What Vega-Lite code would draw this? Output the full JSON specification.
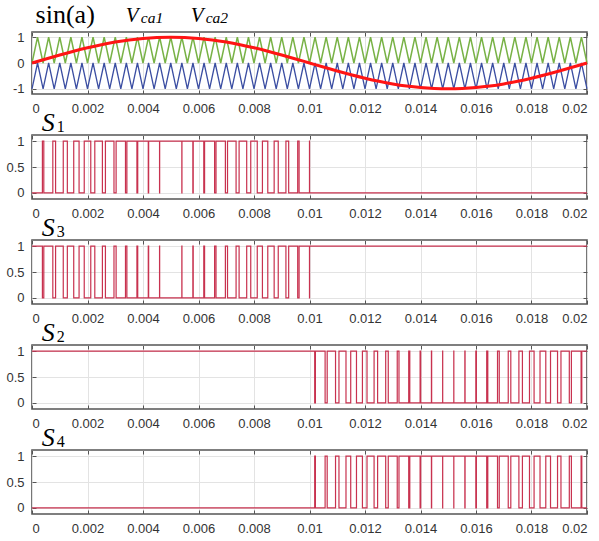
{
"$schema": "https://vega.github.io/schema/vega-lite/v6.json",
"padding": {"left": 5, "top": 1, "right": 1, "bottom": 2},
"bounds": "flush",
"spacing": 41,
"config": {
 "view": {"stroke": "#555555", "strokeWidth": 1.6},
 "axis": {"labelFont": "Liberation Sans", "labelFontSize": 13, "labelColor": "#333333", "tickColor": "#555555", "domain": false, "gridColor": "#e3e3e3", "tickSize": -4, "labelPadding": 12}
},
"datasets": {
 "car": [
  {"t":0,"g":0,"b":-1},{"t":0.0002,"g":1,"b":0},{"t":0.0004,"g":0,"b":-1},{"t":0.0006,"g":1,"b":0},{"t":0.0008,"g":0,"b":-1},
  {"t":0.001,"g":1,"b":0},{"t":0.0012,"g":0,"b":-1},{"t":0.0014,"g":1,"b":0},{"t":0.0016,"g":0,"b":-1},{"t":0.0018,"g":1,"b":0},
  {"t":0.002,"g":0,"b":-1},{"t":0.0022,"g":1,"b":0},{"t":0.0024,"g":0,"b":-1},{"t":0.0026,"g":1,"b":0},{"t":0.0028,"g":0,"b":-1},
  {"t":0.003,"g":1,"b":0},{"t":0.0032,"g":0,"b":-1},{"t":0.0034,"g":1,"b":0},{"t":0.0036,"g":0,"b":-1},{"t":0.0038,"g":1,"b":0},
  {"t":0.004,"g":0,"b":-1},{"t":0.0042,"g":1,"b":0},{"t":0.0044,"g":0,"b":-1},{"t":0.0046,"g":1,"b":0},{"t":0.0048,"g":0,"b":-1},
  {"t":0.005,"g":1,"b":0},{"t":0.0052,"g":0,"b":-1},{"t":0.0054,"g":1,"b":0},{"t":0.0056,"g":0,"b":-1},{"t":0.0058,"g":1,"b":0},
  {"t":0.006,"g":0,"b":-1},{"t":0.0062,"g":1,"b":0},{"t":0.0064,"g":0,"b":-1},{"t":0.0066,"g":1,"b":0},{"t":0.0068,"g":0,"b":-1},
  {"t":0.007,"g":1,"b":0},{"t":0.0072,"g":0,"b":-1},{"t":0.0074,"g":1,"b":0},{"t":0.0076,"g":0,"b":-1},{"t":0.0078,"g":1,"b":0},
  {"t":0.008,"g":0,"b":-1},{"t":0.0082,"g":1,"b":0},{"t":0.0084,"g":0,"b":-1},{"t":0.0086,"g":1,"b":0},{"t":0.0088,"g":0,"b":-1},
  {"t":0.009,"g":1,"b":0},{"t":0.0092,"g":0,"b":-1},{"t":0.0094,"g":1,"b":0},{"t":0.0096,"g":0,"b":-1},{"t":0.0098,"g":1,"b":0},
  {"t":0.01,"g":0,"b":-1},{"t":0.0102,"g":1,"b":0},{"t":0.0104,"g":0,"b":-1},{"t":0.0106,"g":1,"b":0},{"t":0.0108,"g":0,"b":-1},
  {"t":0.011,"g":1,"b":0},{"t":0.0112,"g":0,"b":-1},{"t":0.0114,"g":1,"b":0},{"t":0.0116,"g":0,"b":-1},{"t":0.0118,"g":1,"b":0},
  {"t":0.012,"g":0,"b":-1},{"t":0.0122,"g":1,"b":0},{"t":0.0124,"g":0,"b":-1},{"t":0.0126,"g":1,"b":0},{"t":0.0128,"g":0,"b":-1},
  {"t":0.013,"g":1,"b":0},{"t":0.0132,"g":0,"b":-1},{"t":0.0134,"g":1,"b":0},{"t":0.0136,"g":0,"b":-1},{"t":0.0138,"g":1,"b":0},
  {"t":0.014,"g":0,"b":-1},{"t":0.0142,"g":1,"b":0},{"t":0.0144,"g":0,"b":-1},{"t":0.0146,"g":1,"b":0},{"t":0.0148,"g":0,"b":-1},
  {"t":0.015,"g":1,"b":0},{"t":0.0152,"g":0,"b":-1},{"t":0.0154,"g":1,"b":0},{"t":0.0156,"g":0,"b":-1},{"t":0.0158,"g":1,"b":0},
  {"t":0.016,"g":0,"b":-1},{"t":0.0162,"g":1,"b":0},{"t":0.0164,"g":0,"b":-1},{"t":0.0166,"g":1,"b":0},{"t":0.0168,"g":0,"b":-1},
  {"t":0.017,"g":1,"b":0},{"t":0.0172,"g":0,"b":-1},{"t":0.0174,"g":1,"b":0},{"t":0.0176,"g":0,"b":-1},{"t":0.0178,"g":1,"b":0},
  {"t":0.018,"g":0,"b":-1},{"t":0.0182,"g":1,"b":0},{"t":0.0184,"g":0,"b":-1},{"t":0.0186,"g":1,"b":0},{"t":0.0188,"g":0,"b":-1},
  {"t":0.019,"g":1,"b":0},{"t":0.0192,"g":0,"b":-1},{"t":0.0194,"g":1,"b":0},{"t":0.0196,"g":0,"b":-1},{"t":0.0198,"g":1,"b":0},
  {"t":0.02,"g":0,"b":-1}
 ],
 "sine": [
  {"t":0,"v":0},{"t":0.0005,"v":0.1564},{"t":0.001,"v":0.309},{"t":0.0015,"v":0.454},{"t":0.002,"v":0.5878},
  {"t":0.0025,"v":0.7071},{"t":0.003,"v":0.809},{"t":0.0035,"v":0.891},{"t":0.004,"v":0.9511},{"t":0.0045,"v":0.9877},
  {"t":0.005,"v":1},{"t":0.0055,"v":0.9877},{"t":0.006,"v":0.9511},{"t":0.0065,"v":0.891},{"t":0.007,"v":0.809},
  {"t":0.0075,"v":0.7071},{"t":0.008,"v":0.5878},{"t":0.0085,"v":0.454},{"t":0.009,"v":0.309},{"t":0.0095,"v":0.1564},
  {"t":0.01,"v":0},{"t":0.0105,"v":-0.1564},{"t":0.011,"v":-0.309},{"t":0.0115,"v":-0.454},{"t":0.012,"v":-0.5878},
  {"t":0.0125,"v":-0.7071},{"t":0.013,"v":-0.809},{"t":0.0135,"v":-0.891},{"t":0.014,"v":-0.9511},{"t":0.0145,"v":-0.9877},
  {"t":0.015,"v":-1},{"t":0.0155,"v":-0.9877},{"t":0.016,"v":-0.9511},{"t":0.0165,"v":-0.891},{"t":0.017,"v":-0.809},
  {"t":0.0175,"v":-0.7071},{"t":0.018,"v":-0.5878},{"t":0.0185,"v":-0.454},{"t":0.019,"v":-0.309},{"t":0.0195,"v":-0.1564},
  {"t":0.02,"v":0}
 ],
 "s1": [
  {"t":0,"v":0},
  {"t":0.0003749,"v":1},{"t":0.0004251,"v":0},{"t":0.0007503,"v":1},{"t":0.0008497,"v":0},
  {"t":0.0011264,"v":1},{"t":0.0012736,"v":0},{"t":0.0015036,"v":1},{"t":0.0016964,"v":0},
  {"t":0.0018824,"v":1},{"t":0.0021176,"v":0},{"t":0.0022631,"v":1},{"t":0.0025369,"v":0},
  {"t":0.0026459,"v":1},{"t":0.0029541,"v":0},{"t":0.0030311,"v":1},{"t":0.0033689,"v":0},
  {"t":0.003419,"v":1},{"t":0.003781,"v":0},{"t":0.0038098,"v":1},{"t":0.0041902,"v":0},
  {"t":0.0042035,"v":1},{"t":0.0045965,"v":0},{"t":0.0046004,"v":1},{"t":0.0053996,"v":0},
  {"t":0.0054035,"v":1},{"t":0.0057965,"v":0},{"t":0.0058098,"v":1},{"t":0.0061902,"v":0},
  {"t":0.006219,"v":1},{"t":0.006581,"v":0},{"t":0.0066311,"v":1},{"t":0.0069689,"v":0},
  {"t":0.0070459,"v":1},{"t":0.0073541,"v":0},{"t":0.0074631,"v":1},{"t":0.0077369,"v":0},
  {"t":0.0078824,"v":1},{"t":0.0081176,"v":0},{"t":0.0083036,"v":1},{"t":0.0084964,"v":0},
  {"t":0.0087264,"v":1},{"t":0.0088736,"v":0},{"t":0.0091503,"v":1},{"t":0.0092497,"v":0},
  {"t":0.0095749,"v":1},{"t":0.0096251,"v":0},{"t":0.0099995,"v":1},{"t":0.0100005,"v":0},
  {"t":0.02,"v":0}
 ],
 "s3": [
  {"t":0,"v":1},
  {"t":0.0003749,"v":0},{"t":0.0004251,"v":1},{"t":0.0007503,"v":0},{"t":0.0008497,"v":1},
  {"t":0.0011264,"v":0},{"t":0.0012736,"v":1},{"t":0.0015036,"v":0},{"t":0.0016964,"v":1},
  {"t":0.0018824,"v":0},{"t":0.0021176,"v":1},{"t":0.0022631,"v":0},{"t":0.0025369,"v":1},
  {"t":0.0026459,"v":0},{"t":0.0029541,"v":1},{"t":0.0030311,"v":0},{"t":0.0033689,"v":1},
  {"t":0.003419,"v":0},{"t":0.003781,"v":1},{"t":0.0038098,"v":0},{"t":0.0041902,"v":1},
  {"t":0.0042035,"v":0},{"t":0.0045965,"v":1},{"t":0.0046004,"v":0},{"t":0.0053996,"v":1},
  {"t":0.0054035,"v":0},{"t":0.0057965,"v":1},{"t":0.0058098,"v":0},{"t":0.0061902,"v":1},
  {"t":0.006219,"v":0},{"t":0.006581,"v":1},{"t":0.0066311,"v":0},{"t":0.0069689,"v":1},
  {"t":0.0070459,"v":0},{"t":0.0073541,"v":1},{"t":0.0074631,"v":0},{"t":0.0077369,"v":1},
  {"t":0.0078824,"v":0},{"t":0.0081176,"v":1},{"t":0.0083036,"v":0},{"t":0.0084964,"v":1},
  {"t":0.0087264,"v":0},{"t":0.0088736,"v":1},{"t":0.0091503,"v":0},{"t":0.0092497,"v":1},
  {"t":0.0095749,"v":0},{"t":0.0096251,"v":1},{"t":0.0099995,"v":0},{"t":0.0100005,"v":1},
  {"t":0.02,"v":1}
 ],
 "s4": [
  {"t":0,"v":0},
  {"t":0.0101874,"v":1},{"t":0.0102126,"v":0},{"t":0.0105625,"v":1},{"t":0.0106375,"v":0},
  {"t":0.0109382,"v":1},{"t":0.0110618,"v":0},{"t":0.0113148,"v":1},{"t":0.0114852,"v":0},
  {"t":0.0116928,"v":1},{"t":0.0119072,"v":0},{"t":0.0120725,"v":1},{"t":0.0123275,"v":0},
  {"t":0.0124542,"v":1},{"t":0.0127458,"v":0},{"t":0.0128382,"v":1},{"t":0.0131618,"v":0},
  {"t":0.0132247,"v":1},{"t":0.0135753,"v":0},{"t":0.013614,"v":1},{"t":0.013986,"v":0},
  {"t":0.0140063,"v":1},{"t":0.0143937,"v":0},{"t":0.0144016,"v":1},{"t":0.0147984,"v":0},
  {"t":0.0148001,"v":1},{"t":0.0151999,"v":0},{"t":0.0152016,"v":1},{"t":0.0155984,"v":0},
  {"t":0.0156063,"v":1},{"t":0.0159937,"v":0},{"t":0.016014,"v":1},{"t":0.016386,"v":0},
  {"t":0.0164247,"v":1},{"t":0.0167753,"v":0},{"t":0.0168382,"v":1},{"t":0.0171618,"v":0},
  {"t":0.0172542,"v":1},{"t":0.0175458,"v":0},{"t":0.0176725,"v":1},{"t":0.0179275,"v":0},
  {"t":0.0180928,"v":1},{"t":0.0183072,"v":0},{"t":0.0185148,"v":1},{"t":0.0186852,"v":0},
  {"t":0.0189382,"v":1},{"t":0.0190618,"v":0},{"t":0.0193625,"v":1},{"t":0.0194375,"v":0},
  {"t":0.0197874,"v":1},{"t":0.0198126,"v":0},
  {"t":0.02,"v":0}
 ],
 "s2": [
  {"t":0,"v":1},
  {"t":0.0101874,"v":0},{"t":0.0102126,"v":1},{"t":0.0105625,"v":0},{"t":0.0106375,"v":1},
  {"t":0.0109382,"v":0},{"t":0.0110618,"v":1},{"t":0.0113148,"v":0},{"t":0.0114852,"v":1},
  {"t":0.0116928,"v":0},{"t":0.0119072,"v":1},{"t":0.0120725,"v":0},{"t":0.0123275,"v":1},
  {"t":0.0124542,"v":0},{"t":0.0127458,"v":1},{"t":0.0128382,"v":0},{"t":0.0131618,"v":1},
  {"t":0.0132247,"v":0},{"t":0.0135753,"v":1},{"t":0.013614,"v":0},{"t":0.013986,"v":1},
  {"t":0.0140063,"v":0},{"t":0.0143937,"v":1},{"t":0.0144016,"v":0},{"t":0.0147984,"v":1},
  {"t":0.0148001,"v":0},{"t":0.0151999,"v":1},{"t":0.0152016,"v":0},{"t":0.0155984,"v":1},
  {"t":0.0156063,"v":0},{"t":0.0159937,"v":1},{"t":0.016014,"v":0},{"t":0.016386,"v":1},
  {"t":0.0164247,"v":0},{"t":0.0167753,"v":1},{"t":0.0168382,"v":0},{"t":0.0171618,"v":1},
  {"t":0.0172542,"v":0},{"t":0.0175458,"v":1},{"t":0.0176725,"v":0},{"t":0.0179275,"v":1},
  {"t":0.0180928,"v":0},{"t":0.0183072,"v":1},{"t":0.0185148,"v":0},{"t":0.0186852,"v":1},
  {"t":0.0189382,"v":0},{"t":0.0190618,"v":1},{"t":0.0193625,"v":0},{"t":0.0194375,"v":1},
  {"t":0.0197874,"v":0},{"t":0.0198126,"v":1},
  {"t":0.02,"v":1}
 ]
},
"vconcat": [
 {
  "width": 555, "height": 62,
  "layer": [
   {"data": {"name": "car"}, "mark": {"type": "line", "color": "#78b246", "strokeWidth": 1.5},
    "encoding": {
     "x": {"field": "t", "type": "quantitative", "title": null, "scale": {"domain": [0, 0.02], "nice": false}, "axis": {"orient": "bottom", "values": [0,0.002,0.004,0.006,0.008,0.01,0.012,0.014,0.016,0.018,0.02], "format": ".3~f", "grid": true}},
     "y": {"field": "g", "type": "quantitative", "title": null, "scale": {"domain": [-1.2, 1.2], "nice": false}, "axis": {"orient": "left", "values": [-1,0,1], "labelExpr": "datum.value + ''", "grid": true}}}},
   {"data": {"name": "car"}, "mark": {"type": "line", "color": "#3b4ea2", "strokeWidth": 1.3},
    "encoding": {
     "x": {"field": "t", "type": "quantitative", "title": null, "scale": {"domain": [0, 0.02], "nice": false}, "axis": {"orient": "top", "values": [0,0.002,0.004,0.006,0.008,0.01,0.012,0.014,0.016,0.018,0.02], "labels": false, "grid": false}},
     "y": {"field": "b", "type": "quantitative", "title": null, "scale": {"domain": [-1.2, 1.2], "nice": false}, "axis": {"orient": "right", "values": [-1,0,1], "labels": false, "grid": false}}}},
   {"data": {"name": "sine"}, "mark": {"type": "line", "color": "#ff1414", "strokeWidth": 3, "interpolate": "monotone"},
    "encoding": {
     "x": {"field": "t", "type": "quantitative", "title": null, "scale": {"domain": [0, 0.02], "nice": false}, "axis": null},
     "y": {"field": "v", "type": "quantitative", "title": null, "scale": {"domain": [-1.2, 1.2], "nice": false}, "axis": null}}},
   {"data": {"values": [{}]}, "mark": {"type": "text", "text": "sin(a)", "font": "Liberation Serif", "fontSize": 26, "align": "left", "baseline": "alphabetic", "color": "#000000"},
    "encoding": {"x": {"datum": 0.00013, "axis": null}, "y": {"datum": 1.55, "axis": null}}},
   {"data": {"values": [{}]}, "mark": {"type": "text", "text": "V", "font": "Liberation Serif", "fontStyle": "italic", "fontSize": 21, "align": "left", "baseline": "alphabetic", "color": "#000000"},
    "encoding": {"x": {"datum": 0.00338, "axis": null}, "y": {"datum": 1.59, "axis": null}}},
   {"data": {"values": [{}]}, "mark": {"type": "text", "text": "ca1", "font": "Liberation Serif", "fontStyle": "italic", "fontSize": 15.5, "align": "left", "baseline": "alphabetic", "dx": 15, "dy": 1, "color": "#000000"},
    "encoding": {"x": {"datum": 0.00338, "axis": null}, "y": {"datum": 1.59, "axis": null}}},
   {"data": {"values": [{}]}, "mark": {"type": "text", "text": "V", "font": "Liberation Serif", "fontStyle": "italic", "fontSize": 21, "align": "left", "baseline": "alphabetic", "color": "#000000"},
    "encoding": {"x": {"datum": 0.00572, "axis": null}, "y": {"datum": 1.59, "axis": null}}},
   {"data": {"values": [{}]}, "mark": {"type": "text", "text": "ca2", "font": "Liberation Serif", "fontStyle": "italic", "fontSize": 15.5, "align": "left", "baseline": "alphabetic", "dx": 15, "dy": 1, "color": "#000000"},
    "encoding": {"x": {"datum": 0.00572, "axis": null}, "y": {"datum": 1.59, "axis": null}}}
  ],
  "resolve": {"axis": {"x": "independent", "y": "independent"}}
 },
 {
  "width": 555, "height": 64,
  "layer": [
   {"data": {"name": "s1"}, "mark": {"type": "line", "interpolate": "step-after", "color": "#c8324f", "strokeWidth": 1.2},
    "encoding": {
     "x": {"field": "t", "type": "quantitative", "title": null, "scale": {"domain": [0, 0.02], "nice": false}, "axis": {"orient": "bottom", "values": [0,0.002,0.004,0.006,0.008,0.01,0.012,0.014,0.016,0.018,0.02], "format": ".3~f", "grid": true}},
     "y": {"field": "v", "type": "quantitative", "title": null, "scale": {"domain": [-0.12, 1.12], "nice": false}, "axis": {"orient": "left", "values": [0,0.5,1], "labelExpr": "datum.value + ''", "grid": true}}}},
   {"data": {"values": [{}]}, "mark": {"type": "text", "text": "S", "font": "Liberation Serif", "fontStyle": "italic", "fontSize": 26, "align": "left", "baseline": "alphabetic", "color": "#000000"},
    "encoding": {
     "x": {"datum": 0.00035, "title": null, "scale": {"domain": [0, 0.02], "nice": false}, "axis": {"orient": "top", "values": [0,0.002,0.004,0.006,0.008,0.01,0.012,0.014,0.016,0.018,0.02], "labels": false, "grid": false}},
     "y": {"datum": 1.2, "title": null, "scale": {"domain": [-0.12, 1.12], "nice": false}, "axis": {"orient": "right", "values": [0,0.5,1], "labels": false, "grid": false}}}},
   {"data": {"values": [{}]}, "mark": {"type": "text", "text": "1", "font": "Liberation Serif", "fontSize": 16, "align": "left", "baseline": "alphabetic", "dx": 15, "dy": 1, "color": "#000000"},
    "encoding": {"x": {"datum": 0.00035, "axis": null}, "y": {"datum": 1.2, "axis": null}}}
  ],
  "resolve": {"axis": {"x": "independent", "y": "independent"}}
 },
 {
  "width": 555, "height": 64,
  "layer": [
   {"data": {"name": "s3"}, "mark": {"type": "line", "interpolate": "step-after", "color": "#c8324f", "strokeWidth": 1.2},
    "encoding": {
     "x": {"field": "t", "type": "quantitative", "title": null, "scale": {"domain": [0, 0.02], "nice": false}, "axis": {"orient": "bottom", "values": [0,0.002,0.004,0.006,0.008,0.01,0.012,0.014,0.016,0.018,0.02], "format": ".3~f", "grid": true}},
     "y": {"field": "v", "type": "quantitative", "title": null, "scale": {"domain": [-0.12, 1.12], "nice": false}, "axis": {"orient": "left", "values": [0,0.5,1], "labelExpr": "datum.value + ''", "grid": true}}}},
   {"data": {"values": [{}]}, "mark": {"type": "text", "text": "S", "font": "Liberation Serif", "fontStyle": "italic", "fontSize": 26, "align": "left", "baseline": "alphabetic", "color": "#000000"},
    "encoding": {
     "x": {"datum": 0.00035, "title": null, "scale": {"domain": [0, 0.02], "nice": false}, "axis": {"orient": "top", "values": [0,0.002,0.004,0.006,0.008,0.01,0.012,0.014,0.016,0.018,0.02], "labels": false, "grid": false}},
     "y": {"datum": 1.2, "title": null, "scale": {"domain": [-0.12, 1.12], "nice": false}, "axis": {"orient": "right", "values": [0,0.5,1], "labels": false, "grid": false}}}},
   {"data": {"values": [{}]}, "mark": {"type": "text", "text": "3", "font": "Liberation Serif", "fontSize": 16, "align": "left", "baseline": "alphabetic", "dx": 15, "dy": 1, "color": "#000000"},
    "encoding": {"x": {"datum": 0.00035, "axis": null}, "y": {"datum": 1.2, "axis": null}}}
  ],
  "resolve": {"axis": {"x": "independent", "y": "independent"}}
 },
 {
  "width": 555, "height": 64,
  "layer": [
   {"data": {"name": "s2"}, "mark": {"type": "line", "interpolate": "step-after", "color": "#c8324f", "strokeWidth": 1.2},
    "encoding": {
     "x": {"field": "t", "type": "quantitative", "title": null, "scale": {"domain": [0, 0.02], "nice": false}, "axis": {"orient": "bottom", "values": [0,0.002,0.004,0.006,0.008,0.01,0.012,0.014,0.016,0.018,0.02], "format": ".3~f", "grid": true}},
     "y": {"field": "v", "type": "quantitative", "title": null, "scale": {"domain": [-0.12, 1.12], "nice": false}, "axis": {"orient": "left", "values": [0,0.5,1], "labelExpr": "datum.value + ''", "grid": true}}}},
   {"data": {"values": [{}]}, "mark": {"type": "text", "text": "S", "font": "Liberation Serif", "fontStyle": "italic", "fontSize": 26, "align": "left", "baseline": "alphabetic", "color": "#000000"},
    "encoding": {
     "x": {"datum": 0.00035, "title": null, "scale": {"domain": [0, 0.02], "nice": false}, "axis": {"orient": "top", "values": [0,0.002,0.004,0.006,0.008,0.01,0.012,0.014,0.016,0.018,0.02], "labels": false, "grid": false}},
     "y": {"datum": 1.2, "title": null, "scale": {"domain": [-0.12, 1.12], "nice": false}, "axis": {"orient": "right", "values": [0,0.5,1], "labels": false, "grid": false}}}},
   {"data": {"values": [{}]}, "mark": {"type": "text", "text": "2", "font": "Liberation Serif", "fontSize": 16, "align": "left", "baseline": "alphabetic", "dx": 15, "dy": 1, "color": "#000000"},
    "encoding": {"x": {"datum": 0.00035, "axis": null}, "y": {"datum": 1.2, "axis": null}}}
  ],
  "resolve": {"axis": {"x": "independent", "y": "independent"}}
 },
 {
  "width": 555, "height": 64,
  "layer": [
   {"data": {"name": "s4"}, "mark": {"type": "line", "interpolate": "step-after", "color": "#c8324f", "strokeWidth": 1.2},
    "encoding": {
     "x": {"field": "t", "type": "quantitative", "title": null, "scale": {"domain": [0, 0.02], "nice": false}, "axis": {"orient": "bottom", "values": [0,0.002,0.004,0.006,0.008,0.01,0.012,0.014,0.016,0.018,0.02], "format": ".3~f", "grid": true}},
     "y": {"field": "v", "type": "quantitative", "title": null, "scale": {"domain": [-0.12, 1.12], "nice": false}, "axis": {"orient": "left", "values": [0,0.5,1], "labelExpr": "datum.value + ''", "grid": true}}}},
   {"data": {"values": [{}]}, "mark": {"type": "text", "text": "S", "font": "Liberation Serif", "fontStyle": "italic", "fontSize": 26, "align": "left", "baseline": "alphabetic", "color": "#000000"},
    "encoding": {
     "x": {"datum": 0.00035, "title": null, "scale": {"domain": [0, 0.02], "nice": false}, "axis": {"orient": "top", "values": [0,0.002,0.004,0.006,0.008,0.01,0.012,0.014,0.016,0.018,0.02], "labels": false, "grid": false}},
     "y": {"datum": 1.2, "title": null, "scale": {"domain": [-0.12, 1.12], "nice": false}, "axis": {"orient": "right", "values": [0,0.5,1], "labels": false, "grid": false}}}},
   {"data": {"values": [{}]}, "mark": {"type": "text", "text": "4", "font": "Liberation Serif", "fontSize": 16, "align": "left", "baseline": "alphabetic", "dx": 15, "dy": 1, "color": "#000000"},
    "encoding": {"x": {"datum": 0.00035, "axis": null}, "y": {"datum": 1.2, "axis": null}}}
  ],
  "resolve": {"axis": {"x": "independent", "y": "independent"}}
 }
]
}
